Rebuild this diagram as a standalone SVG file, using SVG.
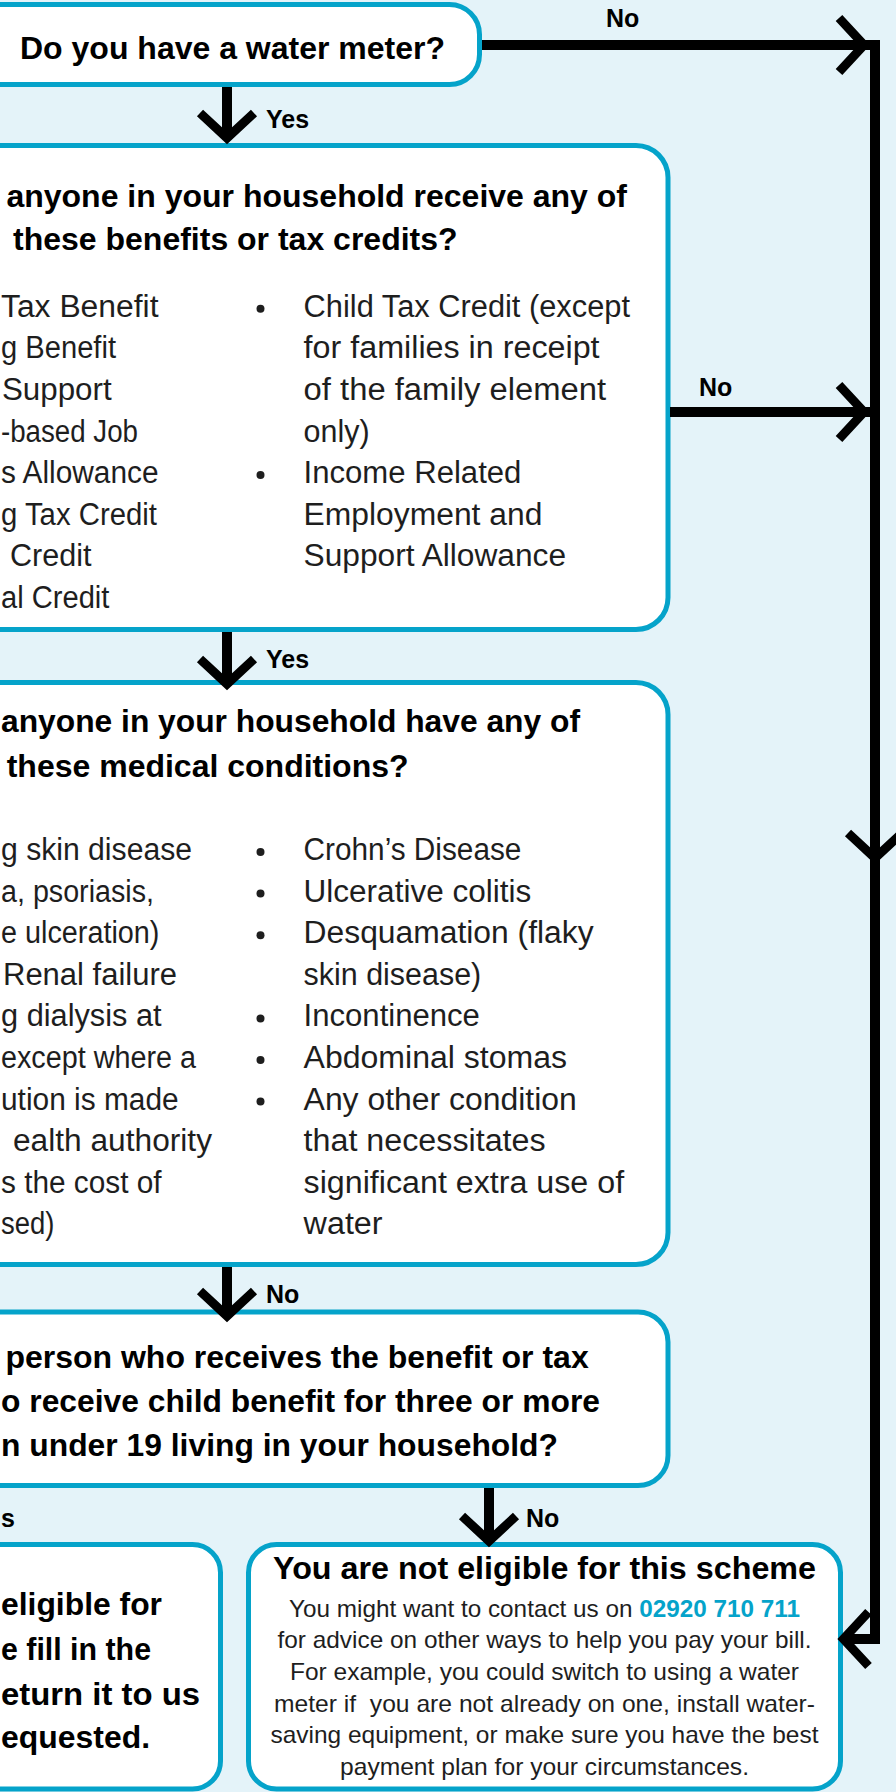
<svg xmlns="http://www.w3.org/2000/svg" xmlns:xlink="http://www.w3.org/1999/xlink" width="896" height="1792" viewBox="0 0 896 1792">
<style>
.box{fill:#ffffff;stroke:#05a3ca;stroke-width:5}
.t{font-family:"Liberation Sans",Arial,sans-serif;font-weight:bold;font-size:32px;fill:#000}
.b{font-family:"Liberation Sans",Arial,sans-serif;font-size:31px;fill:#1e1e1e}
.s{font-family:"Liberation Sans",Arial,sans-serif;font-size:24px;fill:#1e1e1e}
.ph{fill:#05a3ca;font-weight:bold}
.lbl{font-family:"Liberation Sans",Arial,sans-serif;font-weight:bold;font-size:25px;fill:#000}
.conn{fill:none;stroke:#000;stroke-width:10;stroke-linejoin:miter;stroke-linecap:butt}
.e{text-anchor:end}
.m{text-anchor:middle}
</style>
<defs>
<path id="chev" d="M-25,-27 L0,0 L-25,27" fill="none" stroke="#000" stroke-width="9" stroke-linejoin="miter"/>
<circle id="dot" r="4" fill="#1e1e1e"/>
</defs>
<rect x="0" y="0" width="896" height="1792" fill="#e4f3f9"/>

<g id="q-meter">
<rect class="box" x="-40" y="4.5" width="519.5" height="80" rx="30"/>
<text class="t" x="20" y="59">Do you have a water meter?</text>
</g>

<g id="q-benefits">
<rect class="box" x="-40" y="145.5" width="708" height="484" rx="32"/>
<text class="t e" x="627" y="207">anyone in your household receive any of</text>
<text class="t" x="13" y="250">these benefits or tax credits?</text>
<text class="b" x="1" y="316.7" textLength="157.5" lengthAdjust="spacingAndGlyphs">Tax Benefit</text>
<text class="b" x="1" y="358.3" textLength="115" lengthAdjust="spacingAndGlyphs">g Benefit</text>
<text class="b" x="2" y="399.9" textLength="109.6" lengthAdjust="spacingAndGlyphs">Support</text>
<text class="b" x="1" y="441.5" textLength="137" lengthAdjust="spacingAndGlyphs">-based Job</text>
<text class="b" x="1" y="483.1" textLength="157.5" lengthAdjust="spacingAndGlyphs">s Allowance</text>
<text class="b" x="1" y="524.7" textLength="156" lengthAdjust="spacingAndGlyphs">g Tax Credit</text>
<text class="b" x="10" y="566.3" textLength="81.5" lengthAdjust="spacingAndGlyphs">Credit</text>
<text class="b" x="1" y="607.9" textLength="108.4" lengthAdjust="spacingAndGlyphs">al Credit</text>
<use href="#dot" x="260.5" y="308.7"/>
<use href="#dot" x="260.5" y="475.1"/>
<text class="b" x="303.6" y="316.7" textLength="326.4" lengthAdjust="spacingAndGlyphs">Child Tax Credit (except</text>
<text class="b" x="303.6" y="358.3" textLength="296" lengthAdjust="spacingAndGlyphs">for families in receipt</text>
<text class="b" x="303.6" y="399.9" textLength="302.6" lengthAdjust="spacingAndGlyphs">of the family element</text>
<text class="b" x="303.6" y="441.5" textLength="66" lengthAdjust="spacingAndGlyphs">only)</text>
<text class="b" x="303.6" y="483.1" textLength="217.8" lengthAdjust="spacingAndGlyphs">Income Related</text>
<text class="b" x="303.6" y="524.7" textLength="238.8" lengthAdjust="spacingAndGlyphs">Employment and</text>
<text class="b" x="303.6" y="566.3" textLength="262.5" lengthAdjust="spacingAndGlyphs">Support Allowance</text>
</g>

<g id="q-medical">
<rect class="box" x="-40" y="682.5" width="708" height="582" rx="32"/>
<text class="t" x="1" y="731.7" textLength="579" lengthAdjust="spacingAndGlyphs">anyone in your household have any of</text>
<text class="t" x="6.7" y="776.7">these medical conditions?</text>
<text class="b" x="1" y="860" textLength="191" lengthAdjust="spacingAndGlyphs">g skin disease</text>
<text class="b" x="1" y="901.6" textLength="153" lengthAdjust="spacingAndGlyphs">a, psoriasis,</text>
<text class="b" x="1" y="943.2" textLength="158.4" lengthAdjust="spacingAndGlyphs">e ulceration)</text>
<text class="b" x="3" y="984.8" textLength="174" lengthAdjust="spacingAndGlyphs">Renal failure</text>
<text class="b" x="1" y="1026.4" textLength="160.6" lengthAdjust="spacingAndGlyphs">g dialysis at</text>
<text class="b" x="1" y="1068" textLength="195" lengthAdjust="spacingAndGlyphs">except where a</text>
<text class="b" x="1" y="1109.6" textLength="177.6" lengthAdjust="spacingAndGlyphs">ution is made</text>
<text class="b" x="13" y="1151.2" textLength="199" lengthAdjust="spacingAndGlyphs">ealth authority</text>
<text class="b" x="1" y="1192.8" textLength="160.6" lengthAdjust="spacingAndGlyphs">s the cost of</text>
<text class="b" x="1" y="1234.4" textLength="53.5" lengthAdjust="spacingAndGlyphs">sed)</text>
<use href="#dot" x="260.5" y="852"/>
<use href="#dot" x="260.5" y="893.6"/>
<use href="#dot" x="260.5" y="935.2"/>
<use href="#dot" x="260.5" y="1018.4"/>
<use href="#dot" x="260.5" y="1060"/>
<use href="#dot" x="260.5" y="1101.6"/>
<text class="b" x="303.6" y="860" textLength="217.8" lengthAdjust="spacingAndGlyphs">Crohn’s Disease</text>
<text class="b" x="303.6" y="901.6" textLength="227.6" lengthAdjust="spacingAndGlyphs">Ulcerative colitis</text>
<text class="b" x="303.6" y="943.2" textLength="290" lengthAdjust="spacingAndGlyphs">Desquamation (flaky</text>
<text class="b" x="303.6" y="984.8" textLength="177.6" lengthAdjust="spacingAndGlyphs">skin disease)</text>
<text class="b" x="303.6" y="1026.4" textLength="176.3" lengthAdjust="spacingAndGlyphs">Incontinence</text>
<text class="b" x="303.6" y="1068" textLength="263.4" lengthAdjust="spacingAndGlyphs">Abdominal stomas</text>
<text class="b" x="303.6" y="1109.6" textLength="273.2" lengthAdjust="spacingAndGlyphs">Any other condition</text>
<text class="b" x="303.6" y="1151.2" textLength="242" lengthAdjust="spacingAndGlyphs">that necessitates</text>
<text class="b" x="303.6" y="1192.8" textLength="320.5" lengthAdjust="spacingAndGlyphs">significant extra use of</text>
<text class="b" x="303.6" y="1234.4" textLength="79" lengthAdjust="spacingAndGlyphs">water</text>
</g>

<g id="q-children">
<rect class="box" x="-40" y="1312" width="708" height="173.5" rx="30"/>
<text class="t" x="5.4" y="1368">person who receives the benefit or tax</text>
<text class="t" x="1" y="1412" textLength="599" lengthAdjust="spacingAndGlyphs">o receive child benefit for three or more</text>
<text class="t" x="1" y="1456" textLength="557" lengthAdjust="spacingAndGlyphs">n under 19 living in your household?</text>
</g>

<g id="r-eligible">
<rect class="box" x="-40" y="1544.5" width="260.5" height="244.5" rx="28"/>
<text class="t" x="1" y="1615" textLength="161" lengthAdjust="spacingAndGlyphs">eligible for</text>
<text class="t" x="1" y="1660" textLength="150" lengthAdjust="spacingAndGlyphs">e fill in the</text>
<text class="t" x="1" y="1705" textLength="199" lengthAdjust="spacingAndGlyphs">eturn it to us</text>
<text class="t" x="1" y="1748" textLength="149" lengthAdjust="spacingAndGlyphs">equested.</text>
</g>

<g id="r-not-eligible">
<rect class="box" x="248.5" y="1544.5" width="592" height="244.5" rx="28"/>
<text class="t m" x="544.5" y="1579" textLength="543" lengthAdjust="spacingAndGlyphs">You are not eligible for this scheme</text>
<text class="s m" x="544.5" y="1616.5" textLength="511" lengthAdjust="spacingAndGlyphs">You might want to contact us on <tspan class="ph">02920 710 711</tspan></text>
<text class="s m" x="544.5" y="1648.2" textLength="534" lengthAdjust="spacingAndGlyphs">for advice on other ways to help you pay your bill.</text>
<text class="s m" x="544.5" y="1679.9" textLength="509" lengthAdjust="spacingAndGlyphs">For example, you could switch to using a water</text>
<text class="s m" x="544.5" y="1711.6" textLength="541" lengthAdjust="spacingAndGlyphs" xml:space="preserve">meter if  you are not already on one, install water-</text>
<text class="s m" x="544.5" y="1743.3" textLength="548" lengthAdjust="spacingAndGlyphs">saving equipment, or make sure you have the best</text>
<text class="s m" x="544.5" y="1775" textLength="409" lengthAdjust="spacingAndGlyphs">payment plan for your circumstances.</text>
</g>

<g id="connectors">
<path class="conn" d="M482,45 H875 V1639 H843"/>
<path class="conn" d="M670,412 H875"/>
<use href="#chev" transform="translate(864,45)"/>
<use href="#chev" transform="translate(864,412)"/>
<use href="#chev" transform="translate(875,858) rotate(90)"/>
<use href="#chev" transform="translate(843.5,1639) rotate(180)"/>
<path class="conn" d="M227,87 V138"/>
<use href="#chev" transform="translate(227,138) rotate(90)"/>
<path class="conn" d="M227,632 V684"/>
<use href="#chev" transform="translate(227,684) rotate(90)"/>
<path class="conn" d="M227,1267 V1316"/>
<use href="#chev" transform="translate(227,1316) rotate(90)"/>
<path class="conn" d="M489,1488 V1541"/>
<use href="#chev" transform="translate(489,1541) rotate(90)"/>
<text class="lbl" x="606" y="27">No</text>
<text class="lbl" x="699" y="396">No</text>
<text class="lbl" x="266" y="128">Yes</text>
<text class="lbl" x="266" y="668">Yes</text>
<text class="lbl" x="266" y="1303">No</text>
<text class="lbl" x="526" y="1527">No</text>
<text class="lbl" x="1" y="1527">s</text>
</g>
</svg>
